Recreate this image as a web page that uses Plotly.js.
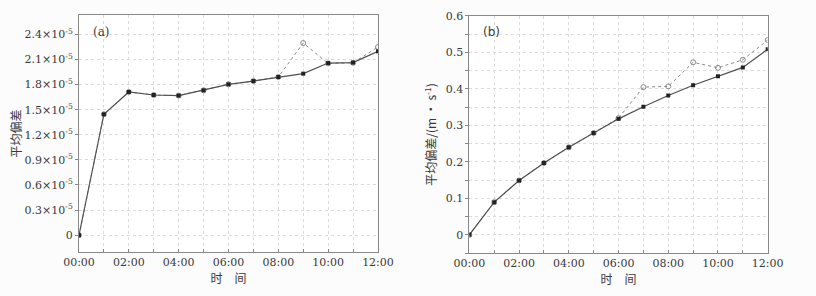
<!DOCTYPE html>
<html>
<head>
<meta charset="utf-8">
<script src="https://cdn.plot.ly/plotly-3.0.1.min.js"></script>
<style>html,body{margin:0;padding:0;background:#fcfcfc;}#chart{width:816px;height:296px;}</style>
</head>
<body>
<div id="chart"></div>
<script>
// Hours 00:00 .. 12:00
const hours = [0,1,2,3,4,5,6,7,8,9,10,11,12];
const hourTickVals = [0,2,4,6,8,10,12];
const hourLabels = ["00:00","02:00","04:00","06:00","08:00","10:00","12:00"];

// Panel (a): mean deviation (x 1e-5)
const aSolid  = [0, 1.445, 1.711, 1.675, 1.668, 1.731, 1.803, 1.842, 1.890, 1.930, 2.057, 2.062, 2.197];
const aDotted = [0, 1.445, 1.711, 1.675, 1.668, 1.731, 1.803, 1.842, 1.890, 2.296, 2.052, 2.060, 2.248];
const aTickVals = [0, 0.3, 0.6, 0.9, 1.2, 1.5, 1.8, 2.1, 2.4];
const aTickText = ["0","0.3×10<sup>-5</sup>","0.6×10<sup>-5</sup>","0.9×10<sup>-5</sup>","1.2×10<sup>-5</sup>","1.5×10<sup>-5</sup>","1.8×10<sup>-5</sup>","2.1×10<sup>-5</sup>","2.4×10<sup>-5</sup>"];

// Panel (b): mean deviation (m·s^-1)
const bSolid  = [0, 0.0896, 0.149, 0.197, 0.240, 0.279, 0.318, 0.351, 0.382, 0.410, 0.435, 0.459, 0.509];
const bDotted = [0, 0.0896, 0.149, 0.197, 0.240, 0.279, 0.320, 0.405, 0.407, 0.473, 0.458, 0.480, 0.534];
const bTickVals = [0,0.1,0.2,0.3,0.4,0.5,0.6];
const bTickText = ["0","0.1","0.2","0.3","0.4","0.5","0.6"];

const serif = 'DejaVu Serif';
const cjk = 'Noto Sans CJK SC';
const txt = "#3a3a3a";
const gridc = "#dcdcdc";

function dotted(x, y, xa, ya){
  return {x:x, y:y, xaxis:xa, yaxis:ya, type:'scatter', mode:'lines+markers',
    line:{color:'#8a8a8a', width:1, dash:'dot'},
    marker:{symbol:'circle-open', size:5, color:'#8a8a8a', line:{width:1, color:'#8a8a8a'}},
    hoverinfo:'skip', showlegend:false};
}
function solid(x, y, xa, ya){
  return {x:x, y:y, xaxis:xa, yaxis:ya, type:'scatter', mode:'lines+markers',
    line:{color:'#505050', width:1.2},
    marker:{symbol:'square', size:4, color:'#222'},
    hoverinfo:'skip', showlegend:false};
}

const data = [
  dotted(hours, aDotted, 'x', 'y'),
  solid(hours, aSolid, 'x', 'y'),
  dotted(hours, bDotted, 'x2', 'y2'),
  solid(hours, bSolid, 'x2', 'y2')
];

function xaxisCfg(domain, anchor){
  return {domain:domain, anchor:anchor, range:[0,12], tickmode:'array', tickvals:hourTickVals, ticktext:hourLabels,
    showline:true, linecolor:'#888', linewidth:1, mirror:true,
    ticks:'inside', ticklen:3, tickcolor:'#888',
    showgrid:true, gridcolor:gridc, griddash:'dot', gridwidth:1, zeroline:false,
    minor:{dtick:1, tick0:0, showgrid:true, gridcolor:gridc, griddash:'dot', gridwidth:1, ticks:'inside', ticklen:3, tickcolor:'#888'},
    tickfont:{family:serif, size:11, color:txt},
    title:{text:'时　间', font:{family:cjk, size:12, color:txt}, standoff:4}};
}
function yaxisCfg(domain, anchor, range, tv, tt, title, standoff, minor){
  const cfg = {domain:domain, anchor:anchor, range:range, tickmode:'array', tickvals:tv, ticktext:tt,
    showline:true, linecolor:'#888', linewidth:1, mirror:true,
    ticks:'outside', ticklen:3, tickcolor:'#888',
    showgrid:true, gridcolor:gridc, griddash:'dot', gridwidth:1, zeroline:false,
    tickfont:{family:serif, size:11, color:txt},
    title:{text:title, font:{family:cjk, size:12, color:txt}, standoff:standoff}};
  if (minor) cfg.minor = {dtick:minor, tick0:0, showgrid:true, gridcolor:gridc, griddash:'dot', gridwidth:1, ticks:'outside', ticklen:3, tickcolor:'#888'};
  return cfg;
}

const layout = {
  width:816, height:296,
  margin:{l:0, r:0, t:0, b:0},
  font:{family:serif, size:11, color:txt},
  paper_bgcolor:'#fcfcfc', plot_bgcolor:'#ffffff',
  xaxis: xaxisCfg([0.0968, 0.4632], 'y'),
  yaxis: yaxisCfg([0.149, 0.949], 'x', [-0.2, 2.63], aTickVals, aTickText, '平均偏差', 0, null),
  xaxis2: xaxisCfg([0.5752, 0.9408], 'y2'),
  yaxis2: yaxisCfg([0.145, 0.946], 'x2', [-0.05, 0.6], bTickVals, bTickText, '平均偏差/(m · s<sup>-1</sup>)', 6, 0.05),
  annotations:[
    {text:'(a)', x:0.5, y:2.43, xref:'x', yref:'y', xanchor:'left', yanchor:'middle', showarrow:false,
      font:{family:serif, size:12, color:txt}},
    {text:'(b)', x:0.45, y:0.555, xref:'x2', yref:'y2', xanchor:'left', yanchor:'middle', showarrow:false,
      font:{family:'DejaVu Sans', size:12, color:txt}}
  ]
};

Plotly.newPlot('chart', data, layout, {displayModeBar:false, staticPlot:true});
</script>
</body>
</html>
